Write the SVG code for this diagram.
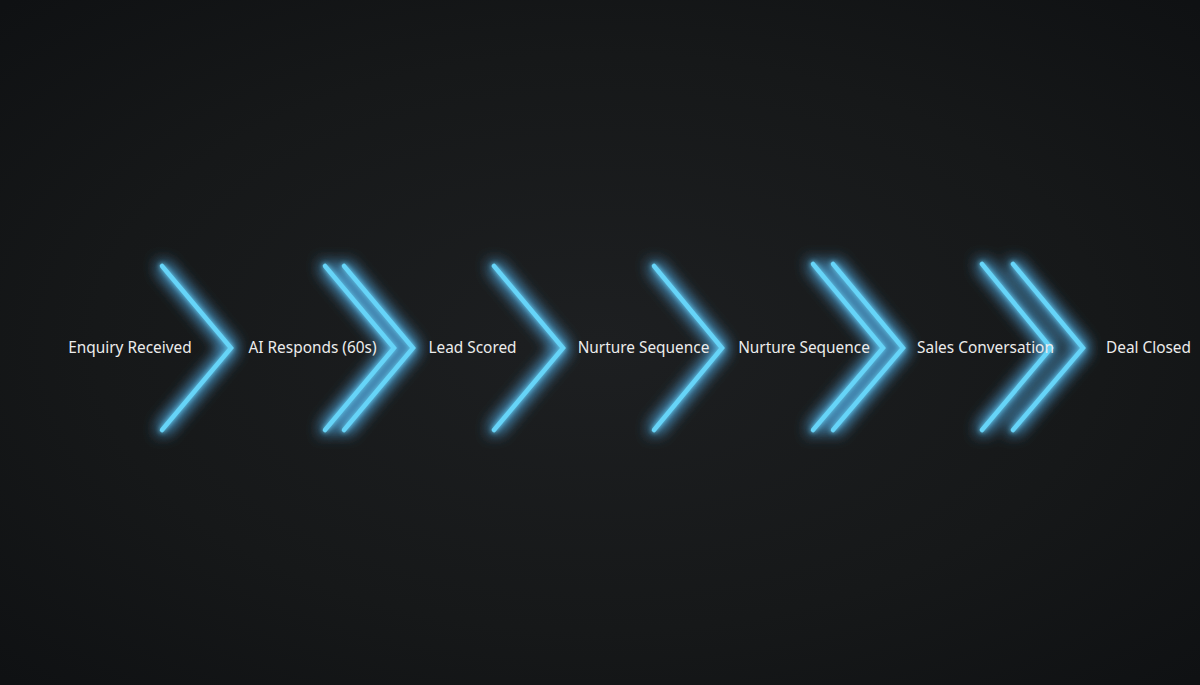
<svg xmlns="http://www.w3.org/2000/svg" width="1200" height="685" viewBox="0 0 1200 685">
<defs>
<radialGradient id="bg" cx="50%" cy="50%" r="70%">
<stop offset="0" stop-color="#1d1f21"/>
<stop offset="0.6" stop-color="#161819"/>
<stop offset="1" stop-color="#0f1113"/>
</radialGradient>
<filter id="glow" x="-50%" y="-20%" width="200%" height="140%">
<feGaussianBlur in="SourceGraphic" stdDeviation="8" result="b1"/>
<feColorMatrix in="b1" type="matrix" values="0 0 0 0 0.1  0 0 0 0 0.5  0 0 0 0 0.95  0 0 0 1.4 0" result="c1"/>
<feGaussianBlur in="SourceGraphic" stdDeviation="2.5" result="b2"/>
<feMerge><feMergeNode in="c1"/><feMergeNode in="c1"/><feMergeNode in="b2"/><feMergeNode in="SourceGraphic"/></feMerge>
</filter>
</defs>
<style>
.chev{fill:none;stroke:#66d4f8;stroke-width:4.5;stroke-linecap:round;stroke-linejoin:miter}
.lbl{font-family:"Noto Sans","Open Sans","Liberation Sans",sans-serif;font-size:15.4px;fill:#ececec;text-anchor:middle}
</style>
<rect width="1200" height="685" fill="url(#bg)"/>
<g id="connectors" filter="url(#glow)">
<polyline class="chev" points="162,266 231,348 162,430"/>
<polyline class="chev" points="325,266 394,348 325,430"/>
<polyline class="chev" points="344,266 413,348 344,430"/>
<polyline class="chev" points="494,266 563,348 494,430"/>
<polyline class="chev" points="654,266 722,348 654,430"/>
<polyline class="chev" points="813,264 883,348 813,430"/>
<polyline class="chev" points="833,264 903,348 833,430"/>
<polyline class="chev" points="982,264 1051,348 982,430"/>
<polyline class="chev" points="1013,264 1083,348 1013,430"/>
</g>
<g id="n1"><text class="lbl" x="130" y="353">Enquiry Received</text></g>
<g id="n2"><text class="lbl" x="312.5" y="353">AI Responds (60s)</text></g>
<g id="n3"><text class="lbl" x="472.5" y="353">Lead Scored</text></g>
<g id="n4"><text class="lbl" x="643.5" y="353">Nurture Sequence</text></g>
<g id="n5"><text class="lbl" x="804" y="353">Nurture Sequence</text></g>
<g id="n6"><text class="lbl" x="985.5" y="353">Sales Conversation</text></g>
<g id="n7"><text class="lbl" x="1148.5" y="353">Deal Closed</text></g>
</svg>
